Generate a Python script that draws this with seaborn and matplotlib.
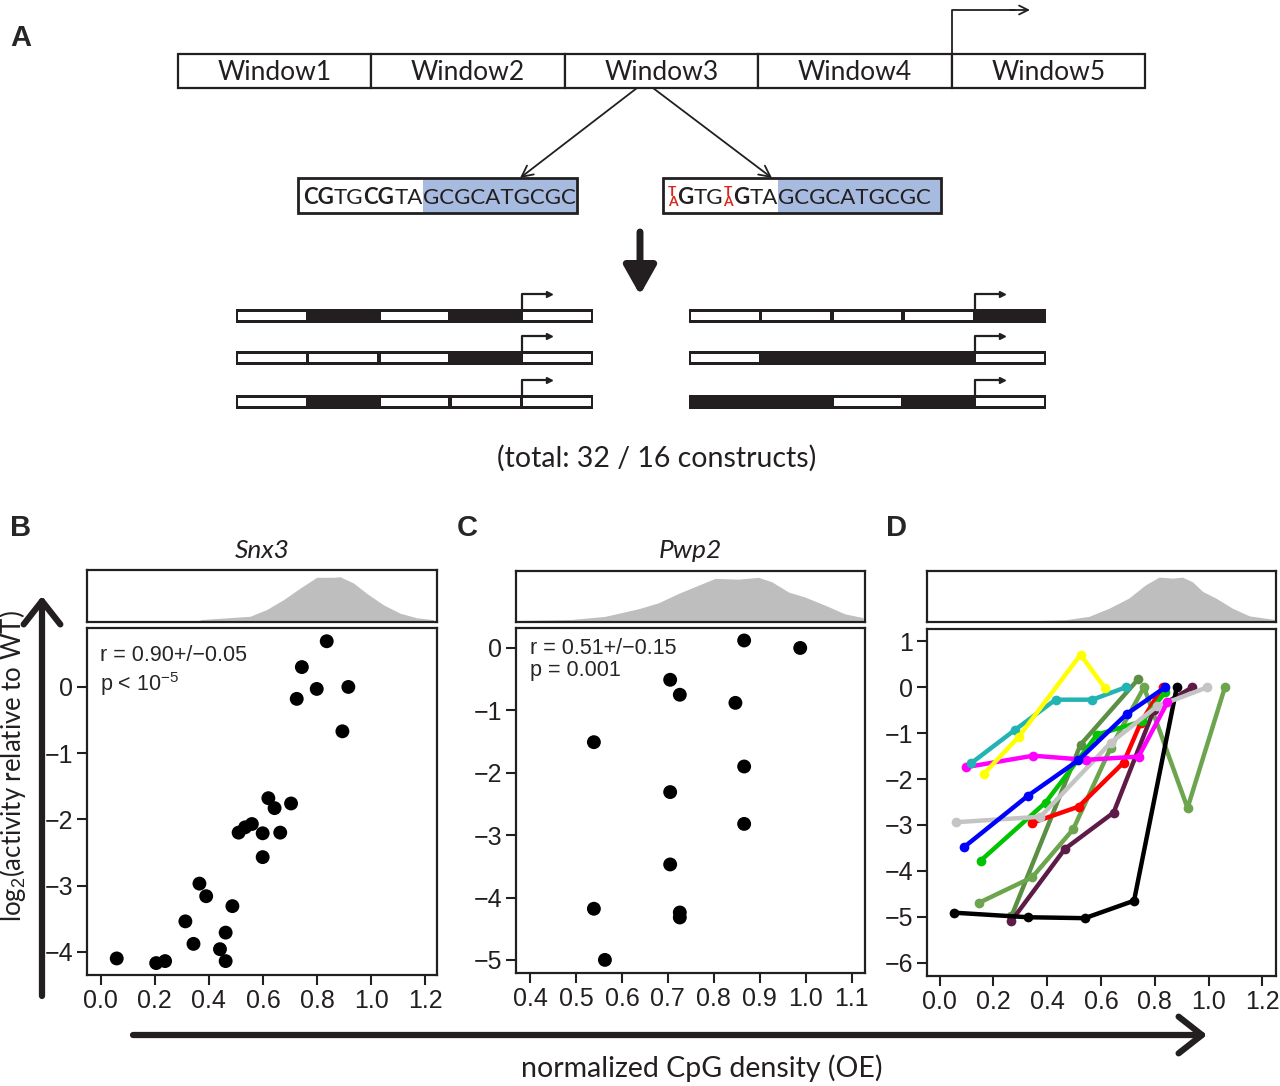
import matplotlib
matplotlib.use('Agg')
import matplotlib.pyplot as plt
from matplotlib.patches import Rectangle
import pandas as pd
import seaborn as sns

W, H = 1280, 1086
INK = '#231f20'

# --- Panel A: design ---
window_names = ['Window1', 'Window2', 'Window3', 'Window4', 'Window5']
wt_pieces = ['CG', 'TG', 'CG', 'TA', 'GCGCATGCGC']
wt_kind = ['bold', 'normal', 'bold', 'normal', 'normal']
mut_pieces = ['T\nA', 'G', 'TG', 'T\nA', 'G', 'TA', 'GCGCATGCGC']
mut_kind = ['red', 'bold', 'normal', 'red', 'bold', 'normal', 'normal']
left_constructs = [[0, 1, 0, 1, 0], [0, 0, 0, 1, 0], [0, 1, 0, 0, 0]]
right_constructs = [[0, 0, 0, 0, 1], [0, 1, 1, 1, 0], [1, 1, 0, 1, 0]]
total_label = '(total: 32 / 16 constructs)'

# --- Panel B: Snx3 ---
snx3_oe = [0.836, 0.744, 0.799, 0.916, 0.725, 0.894, 0.620, 0.704, 0.643, 0.559,
           0.534, 0.510, 0.599, 0.664, 0.599, 0.365, 0.390, 0.487, 0.313, 0.462,
           0.343, 0.441, 0.462, 0.059, 0.205, 0.238]
snx3_act = [0.69, 0.30, -0.03, 0.0, -0.18, -0.67, -1.68, -1.76, -1.83, -2.07,
            -2.12, -2.20, -2.21, -2.20, -2.57, -2.97, -3.16, -3.31, -3.54, -3.71,
            -3.88, -3.96, -4.14, -4.10, -4.17, -4.14]
snx3_dens_x = [0.367, 0.552, 0.614, 0.676, 0.737, 0.799, 0.861, 0.885, 0.935,
               0.984, 1.046, 1.107, 1.169, 1.231]
snx3_dens_h = [0.045, 0.11, 0.24, 0.43, 0.65, 0.86, 0.86, 0.87, 0.75,
               0.55, 0.33, 0.17, 0.08, 0.045]

# --- Panel C: Pwp2 ---
pwp2_oe = [0.866, 0.988, 0.705, 0.726, 0.847, 0.539, 0.866, 0.705, 0.866,
           0.705, 0.539, 0.726, 0.726, 0.563]
pwp2_act = [0.12, 0.0, -0.51, -0.75, -0.88, -1.51, -1.90, -2.31, -2.82,
            -3.47, -4.18, -4.24, -4.32, -5.0]
pwp2_dens_x = [0.375, 0.491, 0.563, 0.636, 0.679, 0.723, 0.766, 0.803, 0.853,
               0.897, 0.926, 0.962, 0.998, 1.042, 1.085, 1.125]
pwp2_dens_h = [0.03, 0.05, 0.11, 0.26, 0.375, 0.56, 0.72, 0.855, 0.84,
               0.875, 0.79, 0.59, 0.49, 0.33, 0.16, 0.085]

# --- Panel D: all genes ---
all_dens_x = [0.375, 0.468, 0.555, 0.630, 0.704, 0.766, 0.816, 0.866, 0.903,
              0.940, 0.978, 1.027, 1.089, 1.152, 1.251]
all_dens_h = [0.03, 0.045, 0.11, 0.27, 0.47, 0.73, 0.88, 0.86, 0.88,
              0.79, 0.60, 0.47, 0.27, 0.12, 0.045]

olive_dark_x = [0.267, 0.524, 0.739]
olive_dark_y = [-4.99, -1.25, 0.18]
olive_light_x = [0.148, 0.344, 0.497, 0.636, 0.760, 0.922, 1.061]
olive_light_y = [-4.69, -4.14, -3.09, -1.32, 0.0, -2.63, 0.0]
purple_x = [0.267, 0.466, 0.647, 0.797, 0.940]
purple_y = [-5.09, -3.52, -2.73, -0.49, 0.0]
black_x = [0.052, 0.329, 0.540, 0.723, 0.882]
black_y = [-4.91, -5.01, -5.03, -4.65, 0.0]
red_x = [0.345, 0.517, 0.684, 0.748, 0.829]
red_y = [-2.95, -2.60, -1.64, -0.77, 0.0]
green_x = [0.152, 0.394, 0.586, 0.754, 0.840]
green_y = [-3.78, -2.51, -1.03, -0.74, -0.10]
gray_x = [0.060, 0.375, 0.636, 0.810, 0.996]
gray_y = [-2.94, -2.82, -1.21, -0.41, 0.0]
magenta_x = [0.098, 0.348, 0.543, 0.740, 0.847]
magenta_y = [-1.74, -1.49, -1.58, -1.51, -0.33]
blue_x = [0.089, 0.329, 0.516, 0.696, 0.839]
blue_y = [-3.49, -2.36, -1.59, -0.58, 0.0]
teal_x = [0.118, 0.282, 0.431, 0.568, 0.692]
teal_y = [-1.65, -0.92, -0.27, -0.27, 0.0]
yellow_x = [0.164, 0.294, 0.524, 0.614]
yellow_y = [-1.89, -1.08, 0.71, -0.01]

line_names = ['olive_dark', 'olive_light', 'purple', 'black', 'red', 'green',
              'gray', 'magenta', 'blue', 'teal', 'yellow']
line_colors = ['#5b8f44', '#6ca54e', '#5e1b48', '#000000', '#ff0000', '#00c400',
               '#c4c4c4', '#ff00ff', '#0000ff', '#22b3b3', '#ffff00']
line_xs = [olive_dark_x, olive_light_x, purple_x, black_x, red_x, green_x,
           gray_x, magenta_x, blue_x, teal_x, yellow_x]
line_ys = [olive_dark_y, olive_light_y, purple_y, black_y, red_y, green_y,
           gray_y, magenta_y, blue_y, teal_y, yellow_y]

sns.set_theme(style='ticks')
plt.rcParams['font.family'] = ['Liberation Sans', 'DejaVu Sans']
plt.rcParams['mathtext.fontset'] = 'custom'
plt.rcParams['mathtext.rm'] = 'Liberation Sans'
plt.rcParams['mathtext.it'] = 'Liberation Sans:italic'
plt.rcParams['axes.unicode_minus'] = True

fig = plt.figure(figsize=(W / 100, H / 100), dpi=100)
ax0 = fig.add_axes([0, 0, 1, 1])
ax0.set_xlim(0, W)
ax0.set_ylim(H, 0)
ax0.axis('off')


def px_axes(l, t, r, b):
    return fig.add_axes([l / W, 1 - b / H, (r - l) / W, (b - t) / H])


# --- window row ---
win_left, win_top, win_h = 178, 54, 34
win_w = (1145 - 178) / 5
for i, name in enumerate(window_names):
    ax0.add_patch(Rectangle((win_left + i * win_w, win_top), win_w, win_h,
                            fc='white', ec=INK, lw=1.6))
    ax0.text(win_left + (i + 0.5) * win_w, win_top + win_h / 2 + 1, name,
             ha='center', va='center', fontsize=19, family='Lato', color=INK)
px = win_left + 4 * win_w
ax0.plot([px, px, 1015], [win_top, 10, 10], color=INK, lw=1.3)
ax0.annotate('', xy=(1030, 10), xytext=(1010, 10),
             arrowprops=dict(arrowstyle='->', lw=1.3, color=INK, mutation_scale=16,
                             shrinkA=0, shrinkB=0))
for xs, xe in [(637, 520), (653, 772)]:
    ax0.annotate('', xy=(xe, 178), xytext=(xs, 88),
                 arrowprops=dict(arrowstyle='->', lw=1.3, color=INK, mutation_scale=20,
                                 shrinkA=0, shrinkB=0))


# --- sequences ---
def draw_seq(x, box_l, box_r, pieces, kinds):
    prev = None
    for txt, kind in zip(pieces, kinds):
        kw = dict(fontsize=16, family='Lato', color=INK, va='bottom', ha='left',
                  zorder=4)
        if kind == 'bold':
            kw['fontweight'] = 'bold'
        if kind == 'red':
            kw.update(fontsize=10, color='#d7261e', fontweight='bold',
                      linespacing=0.8)
        if prev is None:
            t = ax0.text(x, 208, txt, **kw)
        else:
            t = ax0.annotate(txt, xy=(1, 0), xycoords=prev, **kw)
        prev = t
    ax0.add_patch(Rectangle((box_l, 178), box_r - box_l, 35, fc='none', ec=INK,
                            lw=2, zorder=5))
    return prev


seq_left = draw_seq(303, 298, 577, wt_pieces, wt_kind)
seq_right = draw_seq(668, 663, 941, mut_pieces, mut_kind)

ax0.annotate('', xy=(640, 295), xytext=(640, 232),
             arrowprops=dict(arrowstyle='-|>,head_width=0.45,head_length=0.8',
                             lw=5, color=INK, mutation_scale=22, shrinkA=0, shrinkB=0))


# --- constructs ---
def draw_construct(x0, top, pattern, width=357, h=14):
    w = width / 5
    ax0.add_patch(Rectangle((x0, top), width, h, fc=INK, ec='none'))
    for i, v in enumerate(pattern):
        if v == 0:
            ax0.add_patch(Rectangle((x0 + i * w + 1.8, top + 2.6), w - 3.6, h - 5.2,
                                    fc='white', ec='none'))
    p = x0 + 4 * w
    ax0.plot([p, p, p + 26], [top, top - 15, top - 15], color=INK, lw=1.6)
    ax0.plot([p + 27], [top - 15], marker='>', ms=4.5, color=INK)


for row, top in enumerate([309, 351, 395]):
    draw_construct(236, top, left_constructs[row])
    draw_construct(689, top, right_constructs[row])

ax0.text(657, 458, total_label, ha='center', va='center', fontsize=20.5,
         family='Lato', color=INK)

# --- panel letters and titles ---
for letter, x, y in [('A', 10, 38), ('B', 10, 528), ('C', 457, 528), ('D', 886, 528)]:
    ax0.text(x, y, letter, fontsize=21, fontweight='bold', ha='left', va='center')
ax0.text(262, 551, 'Snx3', fontsize=19, style='italic', family='Lato',
         ha='center', va='center', color=INK)
ax0.text(690, 551, 'Pwp2', fontsize=19, style='italic', family='Lato',
         ha='center', va='center', color=INK)

# --- big axis arrows ---
ax0.annotate('', xy=(42, 596), xytext=(42, 996),
             arrowprops=dict(arrowstyle='->,head_width=0.55,head_length=0.7', lw=4.5,
                             color=INK, mutation_scale=24, shrinkA=0, shrinkB=0))
ax0.annotate('', xy=(1207, 1035), xytext=(133, 1035),
             arrowprops=dict(arrowstyle='->,head_width=0.55,head_length=0.7', lw=4.5,
                             color=INK, mutation_scale=24, shrinkA=0, shrinkB=0))
ax0.text(13, 766, 'log$_2$(activity relative to WT)', rotation=90, fontsize=18.5,
         family='Lato', ha='center', va='center', color=INK)
ax0.text(702, 1068, 'normalized CpG density (OE)', fontsize=20.5, family='Lato',
         ha='center', va='center', color=INK)


def style_box(ax, lw=1.6):
    for s in ax.spines.values():
        s.set_visible(True)
        s.set_linewidth(lw)
        s.set_color(INK)


def dens_panel(ax, xs, hs, xlim):
    ax.fill_between(xs, 0, hs, color='#bebebe', lw=0)
    ax.set_xlim(*xlim)
    ax.set_ylim(0, 1)
    ax.set_xticks([])
    ax.set_yticks([])
    style_box(ax)


def scatter_style(ax, xlim, ylim, xticks, yticks, xfmt):
    ax.set_xlim(*xlim)
    ax.set_ylim(*ylim)
    ax.set_xticks(xticks)
    ax.set_xticklabels([xfmt.format(v) for v in xticks])
    ax.set_yticks(yticks)
    ax.set_yticklabels([str(v).replace('-', '\u2212') for v in yticks])
    ax.set_xlabel('')
    ax.set_ylabel('')
    ax.tick_params(direction='out', length=7, width=1.5, labelsize=18, pad=3,
                   colors=INK)
    style_box(ax)


# --- B ---
axBd = px_axes(87, 570, 437, 622)
dens_panel(axBd, snx3_dens_x, snx3_dens_h, (-0.051, 1.244))
axB = px_axes(87, 628, 437, 975)
sns.scatterplot(x=snx3_oe, y=snx3_act, color='black', s=100, edgecolor='none', ax=axB)
scatter_style(axB, (-0.051, 1.244), (-4.35, 0.89), [0.0, 0.2, 0.4, 0.6, 0.8, 1.0, 1.2],
              [0, -1, -2, -3, -4], '{:.1f}')
axB.text(0.037, 0.922, 'r = 0.90+/\u22120.05', transform=axB.transAxes, fontsize=15.5,
         va='center')
axB.text(0.037, 0.838, 'p < 10$^{\u22125}$', transform=axB.transAxes, fontsize=15.5,
         va='center')

# --- C ---
axCd = px_axes(516, 571, 865, 622)
dens_panel(axCd, pwp2_dens_x, pwp2_dens_h, (0.3695, 1.129))
axC = px_axes(516, 628, 865, 973)
sns.scatterplot(x=pwp2_oe, y=pwp2_act, color='black', s=100, edgecolor='none', ax=axC)
scatter_style(axC, (0.3695, 1.129), (-5.21, 0.32),
              [0.4, 0.5, 0.6, 0.7, 0.8, 0.9, 1.0, 1.1], [0, -1, -2, -3, -4, -5], '{:.1f}')
axC.text(0.04, 0.942, 'r = 0.51+/\u22120.15', transform=axC.transAxes, fontsize=15.5,
         va='center')
axC.text(0.04, 0.878, 'p = 0.001', transform=axC.transAxes, fontsize=15.5, va='center')

# --- D ---
axDd = px_axes(927, 571, 1276, 622)
dens_panel(axDd, all_dens_x, all_dens_h, (-0.047, 1.251))
axD = px_axes(927, 629, 1276, 976)
rows = []
for name, xs, ys in zip(line_names, line_xs, line_ys):
    for i, (xv, yv) in enumerate(zip(xs, ys)):
        rows.append({'gene': name, 'step': i, 'oe': xv, 'act': yv})
df_d = pd.DataFrame(rows)
sns.lineplot(data=df_d, x='oe', y='act', hue='gene', hue_order=line_names,
             palette=dict(zip(line_names, line_colors)), sort=False, estimator=None,
             marker='o', markersize=7, markeredgewidth=0, lw=3.2, legend=False, ax=axD)
scatter_style(axD, (-0.047, 1.251), (-6.29, 1.27), [0.0, 0.2, 0.4, 0.6, 0.8, 1.0, 1.2],
              [1, 0, -1, -2, -3, -4, -5, -6], '{:.1f}')

# blue shading behind the CpG-island part of each sequence
fig.canvas.draw()
inv = ax0.transData.inverted()
for t, box_r in [(seq_left, 577), (seq_right, 941)]:
    bb = t.get_window_extent()
    x_start = inv.transform((bb.x0, bb.y0))[0]
    ax0.add_patch(Rectangle((x_start, 178), box_r - x_start, 35, fc='#a7bbe0',
                            ec='none', zorder=1))

fig.savefig('out.png', dpi=100)
